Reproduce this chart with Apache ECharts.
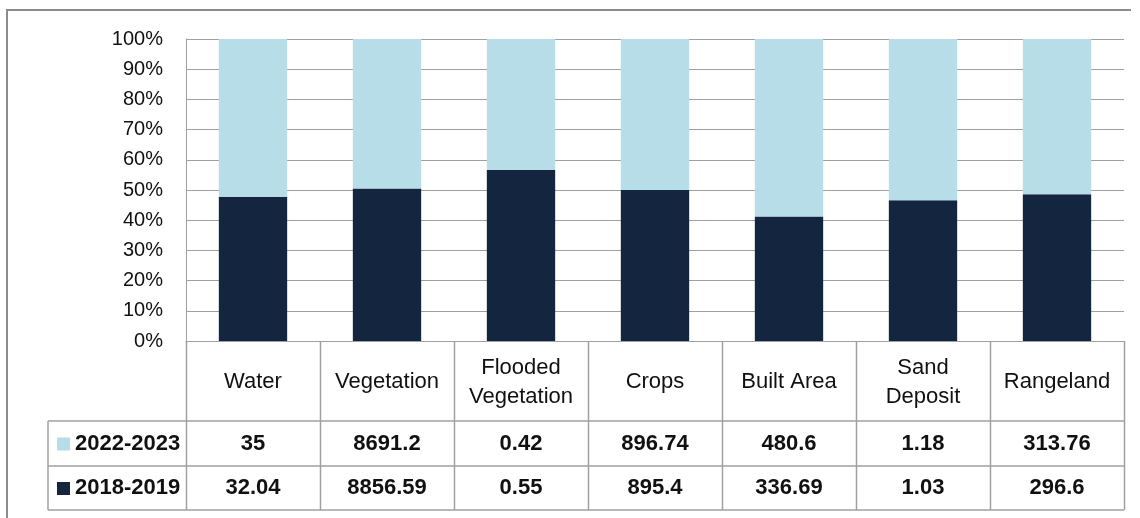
<!DOCTYPE html>
<html>
<head>
<meta charset="utf-8">
<script src="https://cdn.jsdelivr.net/npm/echarts@6/dist/echarts.min.js"></script>
<style>
html,body{margin:0;padding:0;background:#fff;}
#chart{width:1140px;height:518px;}
</style>
</head>
<body>
<div id="chart"></div>
<script>
const categories = ['Water', 'Vegetation', 'Flooded\nVegetation', 'Crops', 'Built Area', 'Sand\nDeposit', 'Rangeland'];
const seriesNames = ['2022-2023', '2018-2019'];
const values2022 = [35, 8691.2, 0.42, 896.74, 480.6, 1.18, 313.76];
const values2018 = [32.04, 8856.59, 0.55, 895.4, 336.69, 1.03, 296.6];
const yTickLabels = ['0%', '10%', '20%', '30%', '40%', '50%', '60%', '70%', '80%', '90%', '100%'];

const LIGHT = '#b7dde8';
const DARK = '#13253f';
const LINE = '#a0a0a0';
const FONT = '"Liberation Sans", Arial, sans-serif';

const share2018 = values2018.map((v, i) => v / (v + values2022[i]) * 100);
const share2022 = values2022.map((v, i) => v / (v + values2018[i]) * 100);

const chart = echarts.init(document.getElementById('chart'), null, {renderer: 'canvas'});

chart.setOption({
  animation: false,
  backgroundColor: '#fff',
  grid: {left: 186, top: 39, width: 938, height: 302, containLabel: false},
  xAxis: {
    type: 'category',
    data: categories,
    axisLine: {show: true, lineStyle: {color: LINE, width: 1}},
    axisTick: {show: false},
    axisLabel: {show: false},
    splitLine: {show: false}
  },
  yAxis: {
    type: 'value',
    min: 0, max: 100, interval: 10,
    axisLine: {show: true, lineStyle: {color: LINE, width: 1}},
    axisTick: {show: false},
    axisLabel: {
      formatter: (v) => yTickLabels[Math.round(v / 10)],
      color: '#111', fontSize: 20, fontFamily: FONT, margin: 23
    },
    splitLine: {show: true, lineStyle: {color: LINE, width: 1}}
  },
  series: [
    {name: seriesNames[1], type: 'bar', stack: 'total', data: share2018, barWidth: '51%',
     itemStyle: {color: DARK}},
    {name: seriesNames[0], type: 'bar', stack: 'total', data: share2022, barWidth: '51%',
     itemStyle: {color: LIGHT}}
  ]
});

// Build data table under the plot using the axis scale positions
const p0 = chart.convertToPixel({xAxisIndex: 0}, 0);
const p1 = chart.convertToPixel({xAxisIndex: 0}, 1);
const band = p1 - p0;
const leftEdge = p0 - band / 2;
const n = categories.length;
const rightEdge = leftEdge + band * n;
const yTop = chart.convertToPixel({yAxisIndex: 0}, 0);
const rowH = [80, 45, 44];
const yRow1 = yTop + rowH[0];
const yRow2 = yRow1 + rowH[1];
const yBot = yRow2 + rowH[2];
const tableLeft = 48;

const g = [];
const line = (x1, y1, x2, y2) => g.push({
  type: 'line', silent: true,
  shape: {x1, y1, x2, y2},
  style: {stroke: LINE, lineWidth: 1.5}
});
// vertical lines
for (let i = 0; i <= n; i++) {
  const x = Math.round(leftEdge + band * i) + 0.5;
  line(x, yTop, x, yBot);
}
line(tableLeft, yRow1, tableLeft, yBot);
// horizontal lines
line(tableLeft, yRow1, rightEdge, yRow1);
line(tableLeft, yRow2, rightEdge, yRow2);
line(tableLeft, yBot, rightEdge, yBot);

const txt = (text, x, y, bold, align) => g.push({
  type: 'text', silent: true,
  style: {
    text, x, y,
    align: align || 'center', verticalAlign: 'middle',
    fontSize: 22, fontFamily: FONT, fontWeight: bold ? 'bold' : 'normal',
    fill: '#111', lineHeight: 29
  }
});
categories.forEach((c, i) => {
  const cx = leftEdge + band * (i + 0.5);
  txt(c, cx, yTop + rowH[0] / 2 + 1, false);
  txt(String(values2022[i]), cx, yRow1 + rowH[1] / 2, true);
  txt(String(values2018[i]), cx, yRow2 + rowH[2] / 2, true);
});
// row headers with legend keys
[[seriesNames[0], LIGHT, yRow1 + rowH[1] / 2], [seriesNames[1], DARK, yRow2 + rowH[2] / 2]].forEach(([name, col, cy]) => {
  g.push({type: 'rect', silent: true, shape: {x: 57, y: cy - 6, width: 13, height: 13}, style: {fill: col}});
  txt(name, 75, cy, true, 'left');
});
// outer frame
g.push({type: 'polyline', silent: true, shape: {points: [[7, 518], [7, 10], [1131, 10]]},
  style: {stroke: '#8c8c8c', lineWidth: 2, fill: null}});

chart.setOption({graphic: g});
</script>
</body>
</html>
